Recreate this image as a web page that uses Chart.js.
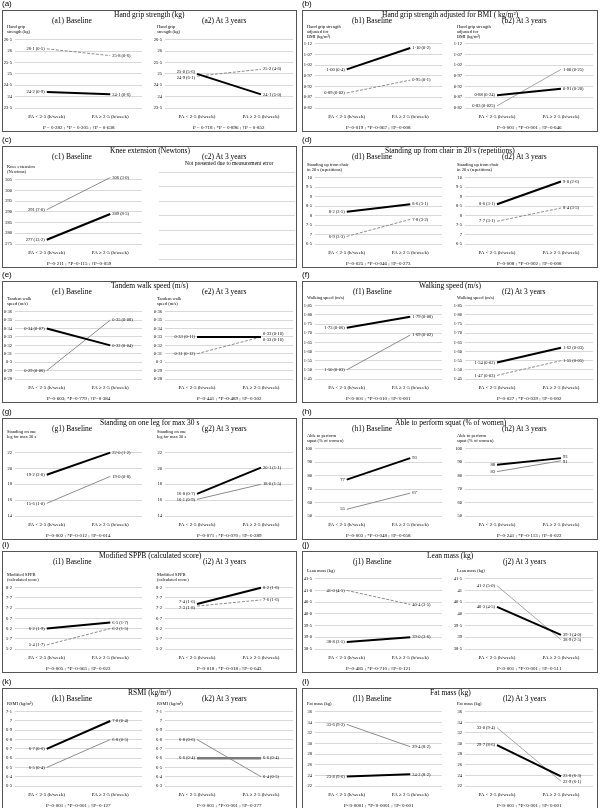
<!DOCTYPE html>
<html>
<head>
<meta charset="utf-8">
<script src="https://cdn.jsdelivr.net/npm/chart.js@4.4.0/dist/chart.umd.min.js"></script>
<style>
  body { margin: 0; background: #fff; width: 600px; height: 808px; overflow: hidden; position: relative; font-family: "Liberation Serif", "Times New Roman", serif; color: #000; }
  .letter { position: absolute; font-family: "Liberation Sans", Arial, sans-serif; font-size: 8px; line-height: 8px; will-change: transform; }
  .box { position: absolute; border: 1px solid #555; box-sizing: border-box; }
  .t { position: absolute; white-space: nowrap; line-height: 1; will-change: transform; }
  .ytitle { position: absolute; font-size: 4.5px; line-height: 4.8px; white-space: nowrap; will-change: transform; }
  canvas { position: absolute; }
</style>
</head>
<body>
<script>
const categories = ['PA < 2·5 (h/week)', 'PA ≥ 2·5 (h/week)'];

// every panel: [thick line, thin line]
const a1Values = [[24.2, 24.1], [26.1, 25.8]];
const a1Sd = [['0·9', '0·6'], ['0·5', '0·6']];
const a2Values = [[25.0, 24.1], [24.9, 25.2]];
const a2Sd = [['5·6', '5·0'], ['6·1', '4·6']];

const b1Values = [[1.00, 1.10], [0.89, 0.95]];
const b1Sd = [['0·4', '0·2'], ['0·02', '0·1']];
const b2Values = [[0.88, 0.91], [0.83, 1.00]];
const b2Sd = [['0·24', '0·20'], ['0·025', '0·25']];

const c1Values = [[277, 289], [291, 306]];
const c1Sd = [['13·2', '8·5'], ['7·0', '3·0']];

const d1Values = [[8.2, 8.6], [6.9, 7.8]];
const d1Sd = [['3·5', '3·1'], ['3·3', '3·2']];
const d2Values = [[8.6, 9.8], [7.7, 8.4]];
const d2Sd = [['3·1', '2·6'], ['3·1', '3·5']];

const e1Values = [[0.34, 0.32], [0.29, 0.35]];
const e1Sd = [['0·07', '0·04'], ['0·06', '0·08']];
const e2Values = [[0.33, 0.33], [0.31, 0.33]];
const e2Sd = [['0·11', '0·10'], ['0·12', '0·10']];

const f1Values = [[1.73, 1.79], [1.50, 1.69]];
const f1Sd = [['0·06', '0·08'], ['0·03', '0·02']];
const f2Values = [[1.54, 1.62], [1.47, 1.55]];
const f2Sd = [['0·02', '0·03'], ['0·03', '0·05']];

const g1Values = [[19.2, 22.0], [15.6, 19.0]];
const g1Sd = [['2·0', '1·2'], ['1·0', '0·8']];
const g2Values = [[16.8, 20.1], [16.1, 18.0]];
const g2Sd = [['0·7', '1·1'], ['0·9', '1·5']];

const h1Values = [[77, 93], [55, 67]];
const h2Values = [[88, 93], [83, 91]];

const i1Values = [[6.2, 6.5], [5.4, 6.2]];
const i1Sd = [['1·9', '1·7'], ['1·7', '1·5']];
const i2Values = [[7.4, 8.2], [7.3, 7.6]];
const i2Sd = [['1·6', '1·6'], ['1·8', '1·6']];

const j1Values = [[38.8, 39.0], [41.0, 40.4]];
const j1Sd = [['3·5', '3·6'], ['4·5', '3·5']];
const j2Values = [[40.3, 39.1], [41.2, 38.9]];
const j2Sd = [['4·5', '4·0'], ['5·0', '2·5']];

const k1Values = [[6.7, 7.0], [6.5, 6.8]];
const k1Sd = [['0·6', '0·4'], ['0·4', '0·5']];
const k2Values = [[6.6, 6.6], [6.8, 6.4]];
const k2Sd = [['0·4', '0·4'], ['0·6', '0·5']];

const l1Values = [[23.8, 24.2], [33.6, 29.4]];
const l1Sd = [['9·6', '8·2'], ['9·2', '8·2']];
const l2Values = [[29.7, 23.8], [33.0, 22.9]];
const l2Sd = [['8·6', '6·3'], ['9·4', '6·1']];

const groupLetters = ['(a)', '(b)', '(c)', '(d)', '(e)', '(f)', '(g)', '(h)', '(i)', '(j)', '(k)', '(l)'];
const groupTitles = [
  'Hand grip strength (kg)',
  'Hand grip strength adjusted for BMI ( kg/m²)',
  'Knee extension (Newtons)',
  'Standing up from chair in 20 s (repetitions)',
  'Tandem walk speed (m/s)',
  'Walking speed (m/s)',
  'Standing on one leg for max 30 s',
  'Able to perform squat (% of women)',
  'Modified SPPB (calculated score)',
  'Lean mass (kg)',
  'RSMI (kg/m²)',
  'Fat mass (kg)'
];
const yTitles = [
  ['Hand grip', 'strength (kg)'],
  ['Hand grip strength', 'adjusted for', 'BMI (kg/m²)'],
  ['Knee extension', '(Newtons)'],
  ['Standing up from chair', 'in 20 s (repetitions)'],
  ['Tandem walk', 'speed (m/s)'],
  ['Walking speed (m/s)'],
  ['Standing on one', 'leg for max 30 s'],
  ['Able to perform', 'squat (% of women)'],
  ['Modified SPPB', '(calculated score)'],
  ['Lean mass (kg)'],
  ['RSMI (kg/m²)'],
  ['Fat mass (kg)']
];
// y axis per group: min, max, step
const yAxes = [
  [23.5, 26.5, 0.5], [0.82, 1.12, 0.05], [275, 305, 5], [6.5, 10, 0.5],
  [0.28, 0.36, 0.01], [1.45, 1.85, 0.05], [14, 23, 1], [50, 100, 5],
  [5.2, 8.2, 0.5], [38.5, 41.5, 0.5], [6.3, 7.1, 0.1], [22, 36, 2]
];
const tickDecimals = [null, 2, 0, null, null, 2, 0, 0, 1, 1, null, 0];
const labelDecimals = [1, 2, 0, 1, 2, 2, 1, 0, 1, 1, 1, 1];

const pTexts = [
  'P = 0·282 ; *P = 0·205 ; †P = 0·638', 'P = 0·718 ; *P = 0·896 ; †P = 0·852',
  'P=0·019 ; *P=0·067 ; †P=0·008', 'P=0·001 ; *P=0·001 ; †P=0·046',
  'P=0·211 ; *P=0·115 ; †P=0·059', '',
  'P=0·025 ; *P=0·046 ; †P=0·273', 'P=0·008 ; *P=0·002 ; †P=0·008',
  'P=0·603; *P=0·779 ; †P=0·384', 'P=0·441 ; *P=0·489 ; †P=0·302',
  'P<0·001 ; *P=0·010 ; †P<0·001', 'P=0·027 ; *P=0·039 ; †P=0·002',
  'P=0·002 ; *P=0·012 ; †P=0·014', 'P=0·071 ; *P=0·070 ; †P=0·289',
  'P=0·003 ; *P=0·048 ; †P=0·058', 'P=0·241 ; *P=0·113 ; †P=0·022',
  'P=0·005 ; *P=0·065 ; †P=0·022', 'P=0·018 ; *P=0·018 ; †P=0·043',
  'P=0·485 ; *P=0·710 ; †P=0·121', 'P<0·001 ; *P<0·001 ; †P=0·511',
  'P=0·001 ; *P=0·001 ; †P=0·127', 'P<0·001 ; *P<0·001 ; †P=0·277',
  'P<0·0001 ; *P<0·0001 ; †P<0·001', 'P<0·001 ; *P<0·001 ; †P<0·001'
];

const panelValues = [a1Values, a2Values, b1Values, b2Values, c1Values, null, d1Values, d2Values,
  e1Values, e2Values, f1Values, f2Values, g1Values, g2Values, h1Values, h2Values,
  i1Values, i2Values, j1Values, j2Values, k1Values, k2Values, l1Values, l2Values];
const panelSd = [a1Sd, a2Sd, b1Sd, b2Sd, c1Sd, null, d1Sd, d2Sd, e1Sd, e2Sd, f1Sd, f2Sd,
  g1Sd, g2Sd, null, null, i1Sd, i2Sd, j1Sd, j2Sd, k1Sd, k2Sd, l1Sd, l2Sd];

// layout
const boxTops = [10, 146, 281, 418, 551, 688];
const boxLefts = [2, 302];
const boxWidths = [295, 296];
const plotTops = [28, 32, 32, 30, 29, 23, 25, 29, 35, 26, 22, 22];
const plotBottom = 98;
// thin line dashed per panel (a1..l2)
const thinDashed = [1, 1, 1, 0, 0, 0, 1, 1, 0, 1, 0, 1, 0, 0, 0, 0, 1, 1, 1, 0, 0, 0, 0, 0];
const FONT = '"Liberation Serif", "Times New Roman", serif';

function fmt(v, d) {
  if (d === null) return String(parseFloat(v.toFixed(6))).replace('.', '·');
  return v.toFixed(d).replace('.', '·');
}

function div(cls, x, y, text, extra) {
  const el = document.createElement('div');
  el.className = cls;
  el.style.left = x + 'px';
  el.style.top = y + 'px';
  el.textContent = text;
  if (extra) Object.assign(el.style, extra);
  document.body.appendChild(el);
  return el;
}

// centred text line, cx/cy = centre; box is sized to the text
function ctext(cx, cy, text, size) {
  const el = div('t', 0, Math.round(cy - size / 2), text, { fontSize: size + 'px' });
  el.style.left = Math.round(cx - el.offsetWidth / 2) + 'px';
  return el;
}

function labelPlugin(texts) {
  return {
    id: 'pointLabels',
    afterDatasetsDraw(chart) {
      const ctx = chart.ctx;
      ctx.save();
      ctx.font = '4.5px ' + FONT;
      ctx.fillStyle = '#000';
      ctx.textBaseline = 'middle';
      for (let i = 0; i < 2; i++) {
        const p0 = chart.getDatasetMeta(0).data[i];
        const p1 = chart.getDatasetMeta(1).data[i];
        let y0 = p0.y, y1 = p1.y;
        if (Math.abs(y0 - y1) < 5.5) {
          const mid = (y0 + y1) / 2;
          if (y0 <= y1) { y0 = mid - 2.8; y1 = mid + 2.8; } else { y0 = mid + 2.8; y1 = mid - 2.8; }
        }
        ctx.textAlign = i === 0 ? 'right' : 'left';
        const dx = i === 0 ? -2 : 2;
        ctx.fillText(texts[0][i], p0.x + dx, y0);
        ctx.fillText(texts[1][i], p1.x + dx, y1);
      }
      ctx.restore();
    }
  };
}

groupLetters.forEach(function (letter, g) {
  const row = Math.floor(g / 2), col = g % 2;
  const bx = boxLefts[col], by = boxTops[row], bw = boxWidths[col];
  div('letter', bx, by - 10, letter);
  div('box', bx, by, '', { width: bw + 'px', height: '122px' });
  ctext(bx + bw / 2, by + 4.5, groupTitles[g], 7.5);

  for (let k = 0; k < 2; k++) {
    const idx = g * 2 + k;
    const gridLeft = bx + (k === 0 ? 13 : 163);
    const gridRight = bx + (k === 0 ? 140 : 291);
    const center = k === 0 ? bx + 70 : bx + 222;
    ctext(center, by + 11, '(' + letter.slice(1, 2) + (k + 1) + ') ' + (k === 0 ? 'Baseline' : 'At 3 years'), 7.5);

    const cv = document.createElement('canvas');
    document.body.appendChild(cv);

    if (!panelValues[idx]) {
      // empty panel: only the grid
      ctext(center + 5, by + 18, 'Not presented due to measurement error', 5.5);
      const top = by + 26, bottom = by + 113;
      cv.width = gridRight - gridLeft + 8; cv.height = bottom - top + 2;
      cv.style.left = (gridLeft - 6) + 'px'; cv.style.top = (top - 1) + 'px';
      new Chart(cv, {
        type: 'line',
        data: { labels: categories, datasets: [] },
        options: {
          responsive: false, animation: false, events: [],
          layout: { padding: { top: 1, bottom: 1, left: 0, right: 0 } },
          plugins: { legend: { display: false }, tooltip: { enabled: false } },
          scales: {
            x: { display: false },
            y: { min: 0, max: 6, ticks: { display: false, stepSize: 1 }, grid: { color: '#d9d9d9', drawTicks: false }, border: { display: false } }
          }
        }
      });
      continue;
    }

    const top = by + plotTops[g], bottom = by + plotBottom;
    const yt = yTitles[g];
    div('ytitle', gridLeft - 8, top - 3 - yt.length * 4.8, '').innerHTML = yt.join('<br>');

    const ax = yAxes[g];
    const tdec = (idx === 19) ? null : tickDecimals[g];
    const vals = panelValues[idx];
    const sd = panelSd[idx];
    const texts = vals.map(function (s, si) {
      return s.map(function (v, i) {
        return fmt(v, labelDecimals[g]) + (sd ? ' (' + sd[si][i] + ')' : '');
      });
    });
    const thickColor = idx === 21 ? '#7a7a7a' : '#000';
    const thinColor = (idx === 19 || idx === 23 || idx === 3) ? '#a6a6a6' : '#8c8c8c';

    cv.width = gridRight - gridLeft + 16 + 6;
    cv.height = bottom - top + 4 + 14;
    cv.style.left = (gridLeft - 16) + 'px';
    cv.style.top = (top - 4) + 'px';

    new Chart(cv, {
      type: 'line',
      data: {
        labels: categories,
        datasets: [
          { data: vals[0], borderColor: thickColor, borderWidth: idx === 21 ? 2.5 : 2, pointRadius: 0, clip: false },
          { data: vals[1], borderColor: thinColor, borderWidth: 1, borderDash: thinDashed[idx] ? [3, 1.5] : [], pointRadius: 0, clip: false }
        ]
      },
      options: {
        responsive: false, animation: false, events: [],
        layout: { padding: { top: 4, right: 6, left: 0, bottom: 0 } },
        plugins: { legend: { display: false }, tooltip: { enabled: false } },
        scales: {
          x: {
            offset: true,
            grid: { display: false, drawTicks: false, tickLength: 0 },
            border: { display: false },
            ticks: { font: { family: FONT, size: 5 }, color: '#000', padding: 6, maxRotation: 0, autoSkip: false },
            afterFit: function (s) { s.height = 14; }
          },
          y: {
            min: ax[0], max: ax[1],
            ticks: {
              stepSize: ax[2], font: { family: FONT, size: 4.5 }, color: '#000', padding: 3,
              callback: function (v) { return fmt(v, tdec); }
            },
            grid: { color: '#d9d9d9', drawTicks: false },
            border: { display: false },
            afterFit: function (s) { s.width = 16; }
          }
        }
      },
      plugins: [labelPlugin(texts)]
    });

    ctext((gridLeft + gridRight) / 2, bottom + 19, pTexts[idx], 5);
  }
});
</script>
</body>
</html>
